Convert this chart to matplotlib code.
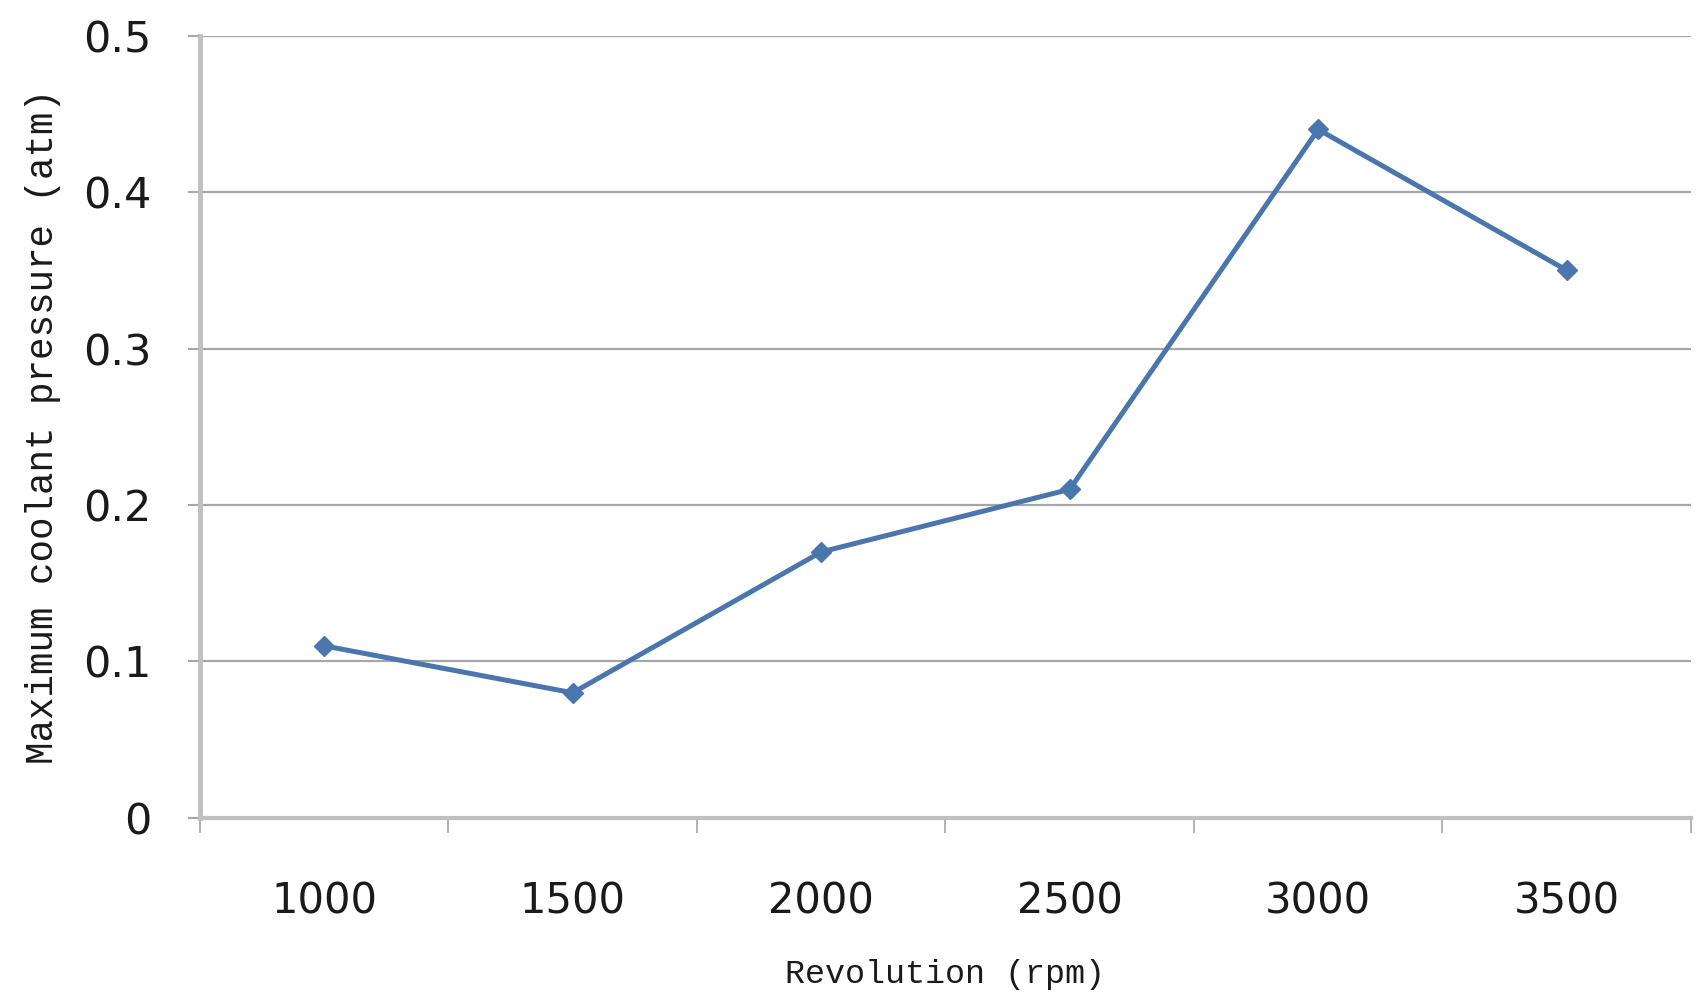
import numpy as np
import matplotlib.pyplot as plt

revolutions = ['1000', '1500', '2000', '2500', '3000', '3500']
pressure = [0.11, 0.08, 0.17, 0.21, 0.44, 0.35]
y_ticks = [0, 0.1, 0.2, 0.3, 0.4, 0.5]
y_tick_labels = ['0', '0.1', '0.2', '0.3', '0.4', '0.5']

grid_gray = '#a6a6a6'
line_blue = '#4a76ad'

fig = plt.figure(figsize=(17.02, 10.07), dpi=100)
ax = fig.add_axes([0.1175, 0.1877, 0.876, 0.777])

x = np.arange(len(revolutions))
ax.plot(x, pressure, color=line_blue, linewidth=3.6, marker='D',
        markersize=10, markerfacecolor=line_blue, markeredgecolor=line_blue,
        zorder=3)

ax.set_xlim(-0.5, len(revolutions) - 0.5)
ax.set_ylim(0, 0.5)

# major x ticks sit between categories, labels on minor ticks
ax.set_xticks(np.arange(-0.5, len(revolutions), 1.0))
ax.set_xticklabels([])
ax.set_xticks(x, minor=True)
ax.set_xticklabels(revolutions, minor=True, fontsize=30, family='DejaVu Sans',
                   color='#1a1a1a')
ax.tick_params(axis='x', which='major', direction='out', length=11,
               width=1.2, color=grid_gray)
ax.tick_params(axis='x', which='minor', length=0, pad=45)

ax.set_yticks(y_ticks)
ax.set_yticklabels(y_tick_labels, fontsize=31, family='DejaVu Sans',
                   color='#1a1a1a')
ax.tick_params(axis='y', direction='out', length=9, width=1.5,
               color=grid_gray, pad=26)

ax.grid(axis='y', color=grid_gray, linewidth=1.6)
ax.set_axisbelow(True)

for side in ['top', 'right']:
    ax.spines[side].set_visible(False)
ax.spines['left'].set_color('#c0c0c0')
ax.spines['left'].set_linewidth(3.5)
ax.spines['bottom'].set_color('#c0c0c0')
ax.spines['bottom'].set_linewidth(3.0)

ax.set_xlabel('Revolution (rpm)', fontsize=24, family='Liberation Mono',
              labelpad=26, color='#1a1a1a')
ax.set_ylabel('Maximum coolant pressure (atm)', fontsize=27,
              family='Liberation Mono', labelpad=16, color='#1a1a1a')

fig.savefig('out.png', dpi=100, facecolor='white')
